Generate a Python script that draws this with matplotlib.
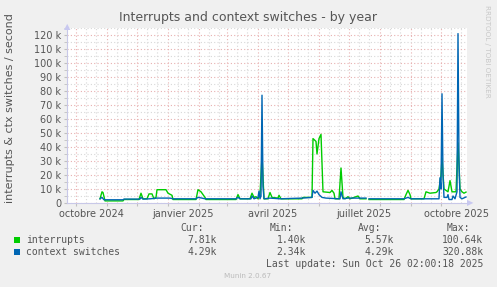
import matplotlib
matplotlib.use("Agg")
import matplotlib.pyplot as plt
import matplotlib.dates as mdates
from matplotlib.ticker import MultipleLocator, FuncFormatter
from matplotlib.patches import Rectangle
import numpy as np
import pandas as pd

# donnees (jours depuis le 1er octobre 2024, valeurs en milliers / seconde)
base = pd.Timestamp("2024-10-01")

irq_days = [24, 26, 27, 29, 47, 48, 63, 65, 67, 71, 73, 76, 78, 80, 81, 87, 90, 92, 96, 97,
            120, 122, 125, 129, 130, 160, 162, 164, 174, 176, 178, 180, 182, 184, 186, 188, 192, 194, 196, 202,
            203, 205, 226, 227, 236, 237, 240, 241, 243, 245, 247, 254, 256, 258, 259, 263, 265, 267, 269, 272,
            274, 282, 284, 290, 291, 293, 328, 330, 332, 334, 335, 348, 350, 354, 360, 361, 363, 365, 366, 368,
            370, 372, 374, 376, 380, 382, 384, 386, 388, 390]
irq_vals = [3.0, 8.0, 7.5, 1.5, 1.5, 2.5, 2.5, 7, 3, 3, 6.5, 6.5, 3, 4, 9.5, 9.5, 9.5, 7, 5.5, 2.5,
            2.5, 9.5, 8, 4, 2.5, 2.5, 6, 3, 3, 7, 4, 4.5, 3, 6, 34, 3, 3, 7.5, 4, 3.5,
            5.5, 3, 3, 4, 4, 46, 44, 35, 46, 49, 8, 7.5, 9, 7, 3, 3, 25, 4, 3, 4.5,
            3, 5, 3, 3, np.nan, 2.5, 2.5, 6, 9, 6, 3, 3, 8, 7, 7.5, 8, 10, 20, 32, 10,
            9, 8, 16, 8, 8, 43, 10, 8, 7, 7.8]

ctx_days = [24, 26, 28, 47, 48, 64, 65, 67, 74, 81, 94, 97, 120, 122, 126, 129, 160, 162, 164, 175,
            176, 178, 182, 183, 184, 185, 186, 187, 188, 194, 204, 226, 236, 237, 239, 241, 243, 246, 250, 264,
            265, 267, 272, 282, 290, 291, 293, 328, 332, 335, 360, 363, 364, 365, 366, 367, 368, 371, 372, 373,
            376, 377, 379, 381, 382, 383, 384, 386, 390]
ctx_vals = [3, 4, 2.3, 2.3, 2.8, 2.8, 4, 2.8, 3, 3.5, 3.5, 3, 3, 4, 3.5, 3, 3, 4, 3, 3,
            5, 3, 4, 8.5, 3, 5, 77, 12, 3, 3.5, 3, 3.5, 4, 9, 7, 8.5, 6, 4, 3.5, 3,
            8, 3, 3.5, 3.5, 3.5, np.nan, 3, 3, 4, 3, 3, 3, 18, 10, 78, 20, 4, 4, 6, 2.5,
            2.5, 5, 3, 8, 121, 30, 4, 3, 4.3]

x_labels = ["octobre 2024", "janvier 2025", "avril 2025", "juillet 2025", "octobre 2025"]
x_label_dates = ["2024-10-16", "2025-01-16", "2025-04-16", "2025-07-16", "2025-10-16"]

legend_names = ["interrupts", "context switches"]
legend_cur = ["7.81k", "4.29k"]
legend_min = ["1.40k", "2.34k"]
legend_avg = ["5.57k", "4.29k"]
legend_max = ["100.64k", "320.88k"]
colors = ["#00CC00", "#0066B3"]

irq_x = [base + pd.Timedelta(days=d) for d in irq_days]
ctx_x = [base + pd.Timedelta(days=d) for d in ctx_days]

W, H = 497, 287
fig = plt.figure(figsize=(W / 100, H / 100), dpi=100, facecolor="#F0F0F0")
ax = fig.add_axes([67 / W, 1 - 203 / H, 400 / W, 175 / H], facecolor="white")

ax.plot(irq_x, irq_vals, color=colors[0], lw=1.0)
ax.plot(ctx_x, ctx_vals, color=colors[1], lw=1.0)

ax.set_xlim(pd.Timestamp("2024-09-22"), pd.Timestamp("2025-10-27"))
ax.set_ylim(0, 125)

# grille
ax.yaxis.set_major_locator(MultipleLocator(10))
ax.yaxis.set_minor_locator(MultipleLocator(5))
ax.yaxis.set_major_formatter(FuncFormatter(lambda v, p: "0" if v == 0 else f"{v:g} k"))
ax.xaxis.set_major_locator(mdates.MonthLocator())
ax.xaxis.set_minor_locator(mdates.MonthLocator(bymonthday=[11, 21]))
ax.xaxis.set_major_formatter(plt.NullFormatter())
ax.grid(which="major", color="#E8B0B0", ls=(0, (1, 2)), lw=0.8)
ax.grid(which="minor", color="#D8D8D8", ls=(0, (1, 2)), lw=0.8)
ax.set_axisbelow(True)
ax.tick_params(which="both", length=2, color="#C0C0C0", labelsize=7, labelcolor="#555555", pad=2)
ax.tick_params(axis="x", which="minor", length=0)

for s in ["top", "right"]:
    ax.spines[s].set_visible(False)
for s in ["left", "bottom"]:
    ax.spines[s].set_color("#C8C8E8")

# fleches des axes
fig.text(67 / W, 1 - 27 / H, "\u25B2", color="#C8C8F0", fontsize=6, ha="center", va="center")
fig.text(470 / W, 1 - 203 / H, "\u25B6", color="#C8C8F0", fontsize=6, ha="center", va="center")

for lbl, d in zip(x_labels, x_label_dates):
    ax.text(pd.Timestamp(d), -0.035, lbl, transform=ax.get_xaxis_transform(),
            ha="center", va="top", fontsize=7, color="#555555")

fig.text(248 / W, 1 - 18 / H, "Interrupts and context switches - by year",
         ha="center", va="center", fontsize=9, color="#555555")
fig.text(10 / W, 1 - 108 / H, "interrupts & ctx switches / second", rotation=90,
         ha="center", va="center", fontsize=8, color="#555555")
fig.text(487 / W, 1 - 5 / H, "RRDTOOL / TOBI OETIKER", rotation=270,
         ha="center", va="top", fontsize=5.2, color="#C8C8C8")

# legende
mono = "DejaVu Sans Mono"
cols = [(217, "Cur:", legend_cur), (306, "Min:", legend_min), (394, "Avg:", legend_avg), (483, "Max:", legend_max)]
for xr, head, vals in cols:
    fig.text((xr - 13) / W, 1 - 228 / H, head, family=mono, fontsize=7, color="#555555",
             ha="right", va="center")
    for i, v in enumerate(vals):
        fig.text(xr / W, 1 - (240 + 12 * i) / H, v, family=mono, fontsize=7, color="#555555",
                 ha="right", va="center")
for i, name in enumerate(legend_names):
    y = 240 + 12 * i
    fig.patches.append(Rectangle((14 / W, 1 - (y + 3) / H), 6 / W, 6 / H, transform=fig.transFigure,
                                 facecolor=colors[i], edgecolor="none"))
    fig.text(26 / W, 1 - y / H, name, family=mono, fontsize=7, color="#555555", ha="left", va="center")

fig.text(483 / W, 1 - 264 / H, "Last update: Sun Oct 26 02:00:18 2025", family=mono, fontsize=7,
         color="#555555", ha="right", va="center")
fig.text(248 / W, 1 - 276 / H, "Munin 2.0.67", fontsize=5.2, color="#BBBBBB", ha="center", va="center")

fig.savefig("out.png", dpi=100, facecolor=fig.get_facecolor())
